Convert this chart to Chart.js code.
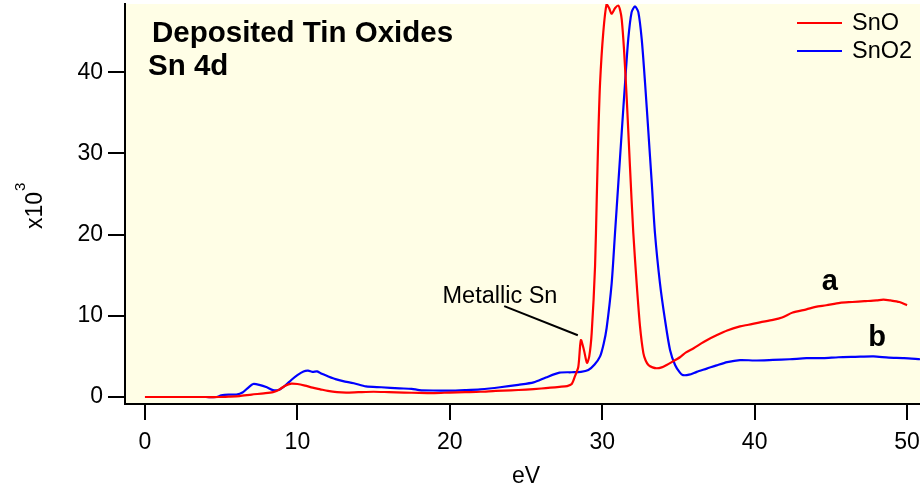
<!DOCTYPE html>
<html>
<head>
<meta charset="utf-8">
<script src="https://cdn.jsdelivr.net/npm/chart.js@4.4.1/dist/chart.umd.min.js"></script>
<style>
  html, body { margin: 0; padding: 0; background: #ffffff; }
  #spectrum { display: block; }
</style>
</head>
<body>
<canvas id="spectrum" width="920" height="490"></canvas>
<script>
// Sn 4d spectra, intensity in units of 10^3 counts vs. energy (eV)
const snoEv = [0, 1, 2, 3, 4, 4.8, 5.5, 6.2, 7.0, 7.8, 8.4, 8.8, 9.2, 9.6, 10.0, 10.5, 11.0, 11.5, 12.0, 12.6,
  13.2, 14.0, 15.0, 16.0, 17.0, 18.0, 19.0, 20.0, 21.0, 22.0, 23.0, 24.0, 25.0, 26.0, 26.6, 27.2, 27.7, 28.0,
  28.2, 28.43, 28.6, 28.8, 29.0, 29.15, 29.31, 29.53, 29.64, 29.75, 29.86, 30.07, 30.29, 30.45, 30.62, 30.85,
  31.06, 31.18, 31.28, 31.43, 31.61, 31.82, 32.04, 32.26, 32.48, 32.7, 32.85, 33.03, 33.3, 33.57, 33.9, 34.23,
  34.56, 35.1, 35.5, 36.0, 36.5, 36.86, 37.5, 38.2, 39.04, 39.6, 40.35, 41.2, 41.8, 42.5, 43.4, 44.0, 44.7,
  45.6, 46.4, 47.2, 48.0, 48.45, 48.9, 49.5, 50.0];
const snoCounts = [0, 0, 0, 0, 0, 0, 0.05, 0.12, 0.3, 0.45, 0.6, 0.9, 1.4, 1.65, 1.6, 1.4, 1.15, 0.95, 0.75, 0.6,
  0.55, 0.6, 0.65, 0.6, 0.55, 0.5, 0.48, 0.55, 0.6, 0.65, 0.75, 0.82, 0.92, 1.05, 1.15, 1.25, 1.35, 1.6,
  2.5, 3.7, 7.0, 5.8, 4.2, 5.0, 7.9, 16.1, 24.3, 32.6, 38.7, 44.9, 48.4, 47.9, 47.2, 47.9,
  48.2, 47.6, 46.5, 42.8, 36.7, 28.4, 20.2, 14.0, 8.7, 5.4, 4.5, 3.95, 3.65, 3.54, 3.65, 3.95,
  4.3, 4.9, 5.5, 6.0, 6.6, 7.0, 7.6, 8.2, 8.7, 8.9, 9.2, 9.5, 9.8, 10.4, 10.8, 11.1, 11.3,
  11.6, 11.7, 11.8, 11.9, 12.0, 11.9, 11.7, 11.3];

const sno2Ev = [0, 1, 2, 3, 4, 4.7, 5.0, 5.5, 6.0, 6.4, 6.8, 7.1, 7.5, 8.0, 8.4, 8.8, 9.2, 9.6, 10.0, 10.4,
  10.7, 11.0, 11.3, 11.6, 12.0, 12.5, 13.0, 13.7, 14.5, 15.5, 16.7, 17.5, 18.0, 18.9, 20.0, 21.0, 22.0, 23.3,
  24.5, 25.5, 26.3, 27.2, 28.0, 28.6, 29.09, 29.5, 29.86, 30.1, 30.29, 30.62, 30.84, 31.06, 31.28, 31.5,
  31.71, 31.93, 32.15, 32.37, 32.59, 32.81, 33.03, 33.25, 33.46, 33.79, 34.12, 34.45, 34.78, 35.1, 35.3,
  35.7, 36.2, 36.86, 37.5, 38.2, 39.04, 40.0, 41.2, 42.3, 43.4, 44.5, 45.5, 46.6, 47.8, 48.8, 49.8, 50.85];
const sno2Counts = [0, 0, 0, 0, 0, 0, 0.2, 0.3, 0.3, 0.55, 1.2, 1.6, 1.5, 1.2, 0.85, 0.9, 1.4, 2.1, 2.7, 3.15,
  3.25, 3.1, 3.15, 2.85, 2.55, 2.2, 1.95, 1.7, 1.3, 1.2, 1.07, 1.0, 0.86, 0.8, 0.78, 0.85, 0.95, 1.2,
  1.5, 1.8, 2.4, 3.0, 3.05, 3.1, 3.33, 4.0, 5.0, 6.6, 8.5, 14.0, 20.2, 26.4, 32.6, 38.7,
  44.1, 47.4, 48.1, 47.4, 44.1, 38.7, 32.6, 26.4, 20.2, 14.0, 9.5, 5.8, 3.95, 3.0, 2.7,
  2.75, 3.1, 3.5, 3.9, 4.3, 4.55, 4.5, 4.57, 4.65, 4.78, 4.8, 4.9, 4.95, 5.0, 4.85, 4.8, 4.65];

const xTicks = [0, 10, 20, 30, 40, 50];
const yTicks = [0, 10, 20, 30, 40];
const seriesNames = ['SnO', 'SnO2'];
const seriesColors = ['#ff0000', '#0000ff'];

const FONT = '"Liberation Sans", Arial, Helvetica, sans-serif';

function toPoints(xs, ys) {
  return xs.map((x, i) => ({ x: x, y: ys[i] }));
}

// no half-label padding around the axes: the plot box fills the canvas edge
function noScalePadding(s) {
  s.paddingTop = 0;
  s.paddingBottom = 0;
  s.paddingLeft = 0;
  s.paddingRight = 0;
}

// cream plot area, labels, legend and the "Metallic Sn" pointer
const decorations = {
  id: 'decorations',
  beforeDraw(chart) {
    const { ctx, chartArea } = chart;
    ctx.save();
    ctx.fillStyle = '#ffffff';
    ctx.fillRect(0, 0, chart.width, chart.height);
    ctx.fillStyle = '#fffee6';
    ctx.fillRect(chartArea.left, chartArea.top, chartArea.right - chartArea.left, chartArea.bottom - chartArea.top);
    ctx.restore();
  },
  afterDraw(chart) {
    const { ctx, chartArea } = chart;
    const xs = chart.scales.x;
    const ys = chart.scales.y;
    const px = v => xs.getPixelForValue(v);
    const py = v => ys.getPixelForValue(v);

    ctx.save();
    ctx.fillStyle = '#000';
    ctx.textBaseline = 'alphabetic';

    // title block
    ctx.font = 'bold 29.5px ' + FONT;
    ctx.textAlign = 'left';
    ctx.fillText('Deposited Tin Oxides', chartArea.left + 27, chartArea.top + 38);
    ctx.fillText('Sn 4d', chartArea.left + 23, chartArea.top + 71);

    // curve labels
    ctx.font = 'bold 29px ' + FONT;
    ctx.textAlign = 'center';
    ctx.fillText('a', px(44.93), py(13.16));
    ctx.fillText('b', px(48.03), py(6.25));

    // metallic Sn annotation
    ctx.font = '23.5px ' + FONT;
    ctx.textAlign = 'left';
    ctx.fillText('Metallic Sn', px(19.52), py(11.55));
    ctx.strokeStyle = '#000';
    ctx.lineWidth = 2;
    ctx.beginPath();
    ctx.moveTo(px(23.57), py(11.2));
    ctx.lineTo(px(28.4), py(7.6));
    ctx.stroke();

    // legend
    ctx.font = '23.5px ' + FONT;
    ctx.textBaseline = 'middle';
    ctx.textAlign = 'left';
    seriesNames.forEach((name, i) => {
      const y = chartArea.top + 19 + i * 28;
      ctx.strokeStyle = seriesColors[i];
      ctx.lineWidth = 2;
      ctx.beginPath();
      ctx.moveTo(797, y);
      ctx.lineTo(842, y);
      ctx.stroke();
      ctx.fillStyle = '#000';
      ctx.fillText(name, 852, y + 1);
    });

    // axis titles
    ctx.font = '23px ' + FONT;
    ctx.textAlign = 'center';
    ctx.textBaseline = 'middle';
    ctx.fillText('eV', px(25.0), 477);

    ctx.translate(41.7, 229);
    ctx.rotate(-Math.PI / 2);
    ctx.textAlign = 'left';
    ctx.textBaseline = 'alphabetic';
    ctx.font = '23px ' + FONT;
    ctx.fillText('x10', 0, 0);
    const w = ctx.measureText('x10').width;
    ctx.font = '15px ' + FONT;
    ctx.fillText('3', w + 1, -17);
    ctx.restore();
  }
};

new Chart(document.getElementById('spectrum'), {
  type: 'line',
  data: {
    datasets: [
      {
        label: seriesNames[0],
        data: toPoints(snoEv, snoCounts),
        borderColor: seriesColors[0],
        borderWidth: 2.2,
        pointRadius: 0,
        tension: 0.25,
        fill: false
      },
      {
        label: seriesNames[1],
        data: toPoints(sno2Ev, sno2Counts),
        borderColor: seriesColors[1],
        borderWidth: 2.2,
        pointRadius: 0,
        tension: 0.25,
        fill: false
      }
    ]
  },
  options: {
    responsive: false,
    animation: false,
    devicePixelRatio: 1,
    layout: { padding: { top: 4, right: 0, bottom: 0, left: 0 } },
    plugins: {
      legend: { display: false },
      tooltip: { enabled: false }
    },
    scales: {
      x: {
        type: 'linear',
        min: -1.31,
        max: 50.85,
        afterFit: s => { s.height = 86; noScalePadding(s); },
        afterBuildTicks: s => { s.ticks = xTicks.map(v => ({ value: v })); },
        border: { display: true, color: '#000', width: 2 },
        grid: { drawOnChartArea: false, drawTicks: true, tickLength: 16, color: '#000', lineWidth: 2 },
        ticks: { color: '#000', font: { family: FONT, size: 23 }, padding: 9, maxRotation: 0 }
      },
      y: {
        type: 'linear',
        min: -0.86,
        max: 48.4,
        afterFit: s => { s.width = 125; noScalePadding(s); },
        afterBuildTicks: s => { s.ticks = yTicks.map(v => ({ value: v })); },
        border: { display: true, color: '#000', width: 2 },
        grid: { drawOnChartArea: false, drawTicks: true, tickLength: 17, color: '#000', lineWidth: 2 },
        ticks: { color: '#000', font: { family: FONT, size: 23 }, padding: 5 }
      }
    }
  },
  plugins: [decorations]
});
</script>
</body>
</html>
